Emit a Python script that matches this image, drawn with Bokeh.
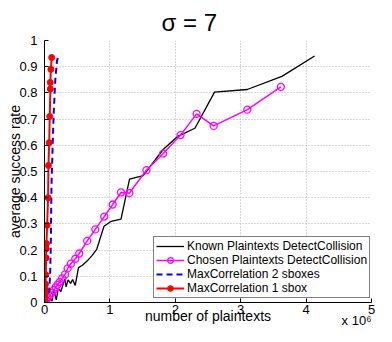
from bokeh.plotting import figure
from bokeh.models import Range1d, FixedTicker, Legend, LegendItem, Title
from bokeh.embed import file_html
from bokeh.resources import INLINE

# ---------------- data (x in units of 10^6 plaintexts) ----------------
known_x = [0.0, 0.05, 0.09, 0.115, 0.14, 0.18, 0.21, 0.25, 0.285, 0.31, 0.33, 0.36, 0.40, 0.43,
           0.47, 0.52, 0.58, 0.65, 0.73, 0.80, 0.91, 1.02, 1.17, 1.30, 1.51, 1.81, 2.03, 2.30,
           2.60, 3.10, 3.63, 4.13]
known_y = [0.0, 0.0, 0.017, 0.005, 0.05, 0.01, 0.055, 0.042, 0.07, 0.09, 0.06, 0.086, 0.073, 0.088,
           0.065, 0.133, 0.142, 0.158, 0.18, 0.204, 0.291, 0.31, 0.318, 0.471, 0.484, 0.583, 0.633,
           0.665, 0.803, 0.813, 0.863, 0.941]

chosen_x = [0.0, 0.01, 0.025, 0.05, 0.08, 0.11, 0.14, 0.17, 0.20, 0.23, 0.27, 0.314, 0.354, 0.403,
            0.472, 0.531, 0.653, 0.777, 0.914, 1.043, 1.170, 1.298, 1.559, 1.814, 2.080, 2.326,
            2.586, 3.102, 3.614]
chosen_y = [0.0, 0.003, 0.008, 0.017, 0.027, 0.037, 0.047, 0.058, 0.068, 0.078, 0.092, 0.107, 0.13,
            0.148, 0.167, 0.187, 0.235, 0.279, 0.328, 0.374, 0.42, 0.418, 0.505, 0.568, 0.639,
            0.72, 0.674, 0.736, 0.823]

sbox2_x = [0.0, 0.02, 0.05, 0.07, 0.085, 0.095, 0.10, 0.107, 0.125, 0.14, 0.165, 0.19, 0.21]
sbox2_y = [0.0, 0.01, 0.02, 0.04, 0.1, 0.2, 0.3, 0.45, 0.6, 0.72, 0.85, 0.92, 0.944]

sbox1_x = [0.0, 0.003, 0.006, 0.01, 0.013, 0.016, 0.02, 0.024, 0.027, 0.03, 0.04, 0.055, 0.06,
           0.072, 0.08, 0.09, 0.088, 0.098, 0.11]
sbox1_y = [0.0, 0.008, 0.02, 0.035, 0.05, 0.07, 0.106, 0.17, 0.205, 0.225, 0.295, 0.40, 0.523,
           0.61, 0.71, 0.815, 0.84, 0.89, 0.935]

x_ticks = [0, 1, 2, 3, 4, 5]
y_ticks = [0, 0.1, 0.2, 0.3, 0.4, 0.5, 0.6, 0.7, 0.8, 0.9, 1]
y_tick_labels = ["0", "0.1", "0.2", "0.3", "0.4", "0.5", "0.6", "0.7", "0.8", "0.9", "1"]

FONT = "Liberation Sans"

p = figure(width=376, height=326, output_backend="svg", toolbar_location=None,
           x_range=Range1d(0, 5), y_range=Range1d(0, 1),
           min_border_left=44, min_border_right=5, min_border_top=40, min_border_bottom=24)
p.background_fill_color = "white"
p.border_fill_color = "white"
p.outline_line_color = None

# title
p.title.text = "σ = 7"
p.title.text_font = FONT
p.title.text_font_size = "24px"
p.title.text_font_style = "normal"
p.title.text_color = "black"
p.title.align = "left"
p.title.offset = 117
p.title.standoff = 10

# axes
for ax in (p.xaxis[0], p.yaxis[0]):
    ax.axis_line_color = "black"
    ax.axis_line_width = 1
    ax.major_tick_in = 4
    ax.major_tick_out = 0
    ax.minor_tick_line_color = None
    ax.major_tick_line_color = "black"
    ax.major_label_text_font = FONT
    ax.major_label_text_font_size = "13px"
    ax.major_label_text_color = "black"
    ax.axis_label_text_font = FONT
    ax.axis_label_text_font_size = "14px"
    ax.axis_label_text_font_style = "normal"
    ax.axis_label_text_color = "black"

p.xaxis.ticker = FixedTicker(ticks=x_ticks)
p.yaxis.ticker = FixedTicker(ticks=y_ticks)
p.yaxis.major_label_overrides = {t: l for t, l in zip(y_ticks, y_tick_labels)}
p.xaxis.major_label_standoff = 2
p.yaxis.major_label_standoff = 7
p.xaxis.axis_label = "number of plaintexts"
p.yaxis.axis_label = "average success rate"
p.xaxis.axis_label_standoff = -9
p.yaxis.axis_label_standoff = -7

# exponent note under the right end of the x axis
exp_title = Title(text="x 10⁶", text_font=FONT, text_font_size="13px",
                  text_font_style="normal", text_color="black",
                  align="right", vertical_align="top", offset=0, standoff=-28)
p.add_layout(exp_title, "below")

# grid
for g in (p.xgrid[0], p.ygrid[0]):
    g.grid_line_color = "#b0b0b0"
    g.grid_line_dash = "1 2"
    g.grid_line_width = 1

# series
r_known = p.line(known_x, known_y, line_color="black", line_width=1.3)
r_chosen_l = p.line(chosen_x, chosen_y, line_color="#ff00ff", line_width=1.5)
r_chosen_m = p.scatter(chosen_x, chosen_y, marker="circle", size=7, fill_color=None,
                       line_color="#ff00ff", line_width=1.3)
r_s2 = p.line(sbox2_x, sbox2_y, line_color="#0000ff", line_width=2, line_dash="6 4")
r_s1_l = p.line(sbox1_x, sbox1_y, line_color="#ff0000", line_width=2)
r_s1_m = p.scatter(sbox1_x, sbox1_y, marker="circle", size=6, fill_color="#ff0000",
                   line_color="#ff0000")

legend = Legend(items=[
    LegendItem(label="Known Plaintexts DetectCollision", renderers=[r_known]),
    LegendItem(label="Chosen Plaintexts DetectCollision", renderers=[r_chosen_l, r_chosen_m]),
    LegendItem(label="MaxCorrelation 2 sboxes", renderers=[r_s2]),
    LegendItem(label="MaxCorrelation 1 sbox", renderers=[r_s1_l, r_s1_m]),
])
legend.location = (109, 4)
legend.label_text_font = FONT
legend.label_text_font_size = "12px"
legend.label_text_color = "black"
legend.glyph_width = 28
legend.glyph_height = 14
legend.label_height = 14
legend.label_standoff = 3
legend.spacing = 0
legend.padding = 2
legend.margin = 0
legend.border_line_color = "black"
legend.border_line_width = 1
legend.background_fill_color = "white"
legend.background_fill_alpha = 1
p.add_layout(legend, "center")

open("out.html", "w").write(file_html(p, INLINE))
